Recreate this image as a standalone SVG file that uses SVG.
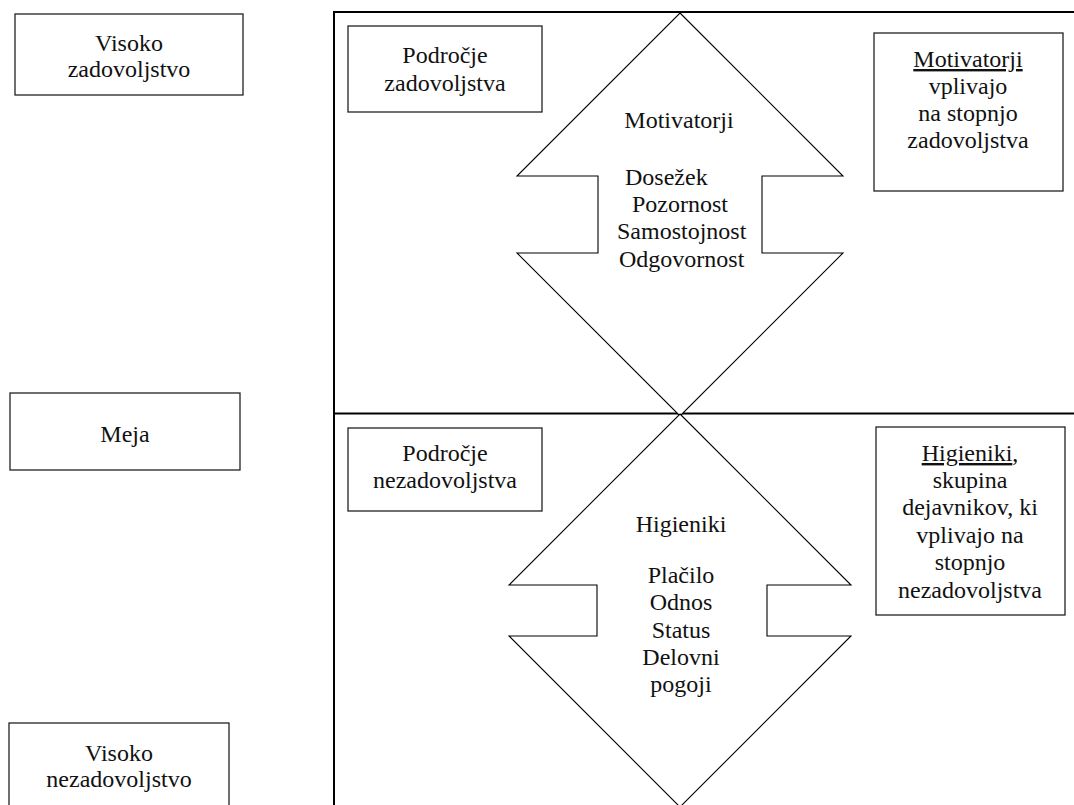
<svg xmlns="http://www.w3.org/2000/svg" width="1074" height="805" viewBox="0 0 1074 805" font-family="'Liberation Serif', 'DejaVu Serif', 'Times New Roman', serif" font-size="24">
  <style>
    .box { fill: #ffffff; stroke: #222222; stroke-width: 1.3; }
    .arrow { fill: #ffffff; stroke: #000000; stroke-width: 1.1; stroke-linejoin: miter; }
    .frame { fill: none; stroke: #000000; stroke-width: 2; }
    .t { font-family: 'Liberation Serif', 'DejaVu Serif', 'Times New Roman', serif; font-size: 24px; fill: #111111; }
    .c { text-anchor: middle; }
    .u { text-decoration: underline; }
  </style>
  <rect width="1074" height="805" fill="#ffffff"/>

  <!-- scale labels on the left -->
  <g id="visoko-zadovoljstvo" class="t">
    <rect class="box" x="15" y="14" width="228" height="81"/>
    <text class="c" x="129" y="51">Visoko</text>
    <text class="c" x="129" y="77">zadovoljstvo</text>
  </g>
  <g id="meja" class="t">
    <rect class="box" x="10" y="393" width="230" height="77"/>
    <text class="c" x="125" y="442">Meja</text>
  </g>
  <g id="visoko-nezadovoljstvo" class="t">
    <rect class="box" x="9" y="723" width="220" height="90"/>
    <text class="c" x="119" y="761">Visoko</text>
    <text class="c" x="119" y="787">nezadovoljstvo</text>
  </g>

  <!-- frame: axis and boundary lines -->
  <g id="connectors">
    <path class="frame" d="M334,805 V12 H1074"/>
    <path class="frame" d="M334,413.5 H1074"/>
  </g>

  <!-- motivators: double-headed arrow in the upper zone -->
  <g id="motivatorji-arrow" class="t">
    <path class="arrow" d="M680,13 L843,176 L762,176 L762,253 L843,253 L680,416 L517,253 L598,253 L598,176 L517,176 Z"/>
    <text class="c" x="679" y="128">Motivatorji</text>
    <text x="625" y="185">Dosežek</text>
    <text x="632" y="212">Pozornost</text>
    <text x="617" y="239">Samostojnost</text>
    <text x="619" y="267">Odgovornost</text>
  </g>

  <!-- hygiene factors: double-headed arrow in the lower zone -->
  <g id="higieniki-arrow" class="t">
    <path class="arrow" d="M680,414 L851,585 L767,585 L767,636 L851,636 L680,807 L509,636 L597,636 L597,585 L509,585 Z"/>
    <text class="c" x="681" y="532">Higieniki</text>
    <text class="c" x="681" y="583">Plačilo</text>
    <text class="c" x="681" y="610">Odnos</text>
    <text class="c" x="681" y="638">Status</text>
    <text class="c" x="681" y="665">Delovni</text>
    <text class="c" x="681" y="692">pogoji</text>
  </g>

  <!-- zone labels -->
  <g id="podrocje-zadovoljstva" class="t">
    <rect class="box" x="348" y="26" width="194" height="86"/>
    <text class="c" x="445" y="63">Področje</text>
    <text class="c" x="445" y="91">zadovoljstva</text>
  </g>
  <g id="podrocje-nezadovoljstva" class="t">
    <rect class="box" x="348" y="428" width="194" height="83"/>
    <text class="c" x="445" y="461">Področje</text>
    <text class="c" x="445" y="488">nezadovoljstva</text>
  </g>

  <!-- explanations on the right -->
  <g id="motivatorji-opis" class="t">
    <rect class="box" x="874" y="33" width="189" height="158"/>
    <text class="c" x="968" y="67"><tspan class="u">Motivatorji</tspan></text>
    <text class="c" x="968" y="94">vplivajo</text>
    <text class="c" x="968" y="121">na stopnjo</text>
    <text class="c" x="968" y="148">zadovoljstva</text>
  </g>
  <g id="higieniki-opis" class="t">
    <rect class="box" x="876" y="427" width="189" height="188"/>
    <text class="c" x="970" y="461"><tspan class="u">Higieniki</tspan>,</text>
    <text class="c" x="970" y="488">skupina</text>
    <text class="c" x="970" y="515">dejavnikov, ki</text>
    <text class="c" x="970" y="543">vplivajo na</text>
    <text class="c" x="970" y="570">stopnjo</text>
    <text class="c" x="970" y="598">nezadovoljstva</text>
  </g>
</svg>
